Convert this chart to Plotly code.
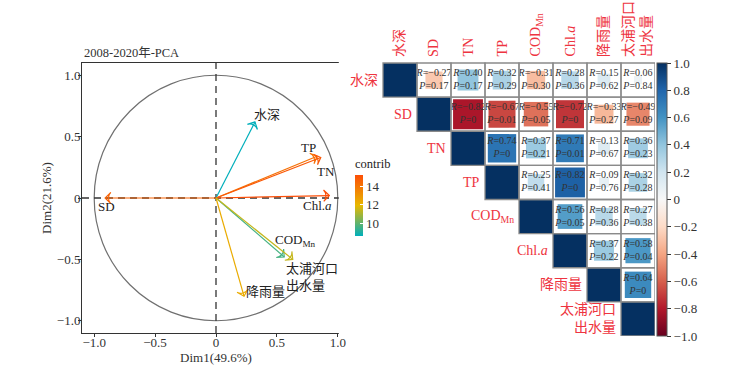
import numpy as np
import plotly.graph_objects as go
from plotly.colors import sample_colorscale, sequential

# ---------------- PCA data ----------------
pca_vars = ['水深', 'TP', 'TN', 'Chl.<i>a</i>', 'SD', 'COD<sub>Mn</sub>', '太浦河口<br>出水量', '降雨量']
dim1 = [0.32, 0.83, 0.86, 0.93, -0.91, 0.56, 0.63, 0.23]
dim2 = [0.62, 0.34, 0.33, 0.02, 0.00, -0.48, -0.50, -0.80]
contrib = [8.6, 14.1, 14.9, 15.2, 14.5, 9.6, 11.4, 12.3]
pca_ticks = [-1.0, -0.5, 0, 0.5, 1.0]
pca_ticktext = ['−1.0', '−0.5', '0', '0.5', '1.0']

# ---------------- correlation data ----------------
corr_vars = ['水深', 'SD', 'TN', 'TP', 'COD<sub>Mn</sub>', 'Chl.<i>a</i>', '降雨量', '太浦河口<br>出水量']
r_row1 = [-0.27, 0.40, 0.32, -0.31, 0.28, 0.15, 0.06]
r_row2 = [-0.82, -0.67, -0.55, -0.72, -0.33, -0.49]
r_row3 = [0.74, 0.37, 0.71, 0.13, 0.36]
r_row4 = [0.25, 0.82, 0.09, 0.32]
r_row5 = [0.56, 0.28, 0.27]
r_row6 = [0.37, 0.58]
r_row7 = [0.64]
p_row1 = [0.17, 0.17, 0.29, 0.30, 0.36, 0.62, 0.84]
p_row2 = [0, 0.01, 0.05, 0, 0.27, 0.09]
p_row3 = [0, 0.21, 0.01, 0.67, 0.23]
p_row4 = [0.41, 0, 0.76, 0.28]
p_row5 = [0.05, 0.36, 0.38]
p_row6 = [0.22, 0.04]
p_row7 = [0]
diag_r = 1.0
corr_ticks = [1.0, 0.8, 0.6, 0.4, 0.2, 0, -0.2, -0.4, -0.6, -0.8, -1.0]

# ---------------- styling / layout ----------------
W, H = 742, 374
FONT = 'Liberation Serif, Noto Sans CJK SC, serif'
RED = '#EE3440'
contrib_scale = [[0, '#00AFBB'], [0.5, '#E7B800'], [1, '#FC4E07']]
rdbu = sequential.RdBu  # ColorBrewer red -> blue

pca_px = dict(x0=82, x1=350, y0=63, y1=333)
mat_px = dict(x0=383, x1=655, y0=63, y1=336)
cell_w = (mat_px['x1'] - mat_px['x0']) / 8
cell_h = (mat_px['y1'] - mat_px['y0']) / 8
ext_left = 1.3                      # extra axis room (in cells) for row labels
ext_top = mat_px['y0'] / cell_h     # extra axis room (in cells) for column labels

# label offsets from arrow tips (data units)
lab_dx = [0.10, -0.07, 0.04, -0.10, 0.01, 0.09, 0.16, 0.18]
lab_dy = [0.06, 0.07, -0.11, -0.08, -0.07, 0.13, -0.14, 0.035]
lab_align = ['center', 'center', 'center', 'center', 'center', 'center', 'left', 'center']

fig = go.Figure()

cmin, cmax = min(contrib), max(contrib)
line_cols = sample_colorscale(contrib_scale, [(c - cmin) / (cmax - cmin) for c in contrib])

for i, name in enumerate(pca_vars):
    fig.add_trace(go.Scatter(
        x=[0, dim1[i]], y=[0, dim2[i]], mode='lines+markers',
        line=dict(color=line_cols[i], width=1.2),
        marker=dict(symbol=['circle', 'arrow-wide-open'], size=[0, 8], angleref='previous', opacity=1,
                    color=[contrib[i], contrib[i]], colorscale=contrib_scale, cmin=cmin, cmax=cmax,
                    line=dict(width=1.2, color=line_cols[i]),
                    showscale=(i == 0),
                    colorbar=dict(
                        title=dict(text='contrib', side='top', font=dict(family=FONT, size=12.5, color='#222')),
                        x=355 / W, xanchor='left', xpad=0,
                        y=1 - 196 / H, yanchor='middle', ypad=0,
                        len=80 / H, lenmode='fraction', thickness=8, thicknessmode='pixels',
                        tickvals=[10, 12, 14], ticks='inside', ticklen=3, tickcolor='white', tickwidth=1,
                        tickfont=dict(family=FONT, size=13, color='#333'), outlinewidth=0)),
        hoverinfo='skip', showlegend=False, xaxis='x', yaxis='y'))
    fig.add_annotation(x=dim1[i] + lab_dx[i], y=dim2[i] + lab_dy[i], xref='x', yref='y',
                       text=name, showarrow=False, align=lab_align[i],
                       font=dict(family=FONT, size=13, color='#222'))

# ---- correlation matrix marks ----
r_rows = [r_row1, r_row2, r_row3, r_row4, r_row5, r_row6, r_row7]
p_rows = [p_row1, p_row2, p_row3, p_row4, p_row5, p_row6, p_row7]
n = len(corr_vars)
cx, cy, cr, ctext = [], [], [], []
for i in range(n - 1):
    for k, (r, p) in enumerate(zip(r_rows[i], p_rows[i])):
        j = i + 1 + k
        cx.append(j + 1); cy.append(i + 1); cr.append(r)
        rs = f'{r:.2f}'.replace('-', '−')
        ps = '0' if p == 0 else f'{p:.2f}'
        ctext.append(f'<i>R</i>={rs}<br><i>P</i>={ps}')

# diagonal cells as a heatmap (R = 1 on the diagonal, empty elsewhere)
diag_z = [[diag_r if a == b else None for b in range(n)] for a in range(n)]
fig.add_trace(go.Heatmap(
    x=list(range(1, n + 1)), y=list(range(1, n + 1)), z=diag_z, xaxis='x2', yaxis='y2',
    colorscale=rdbu, zmin=-1, zmax=1, showscale=False, hoverinfo='skip'))

# off-diagonal squares (area ~ |R|)
fig.add_trace(go.Scatter(
    x=cx, y=cy, mode='markers', xaxis='x2', yaxis='y2',
    marker=dict(symbol='square', opacity=1, colorscale=rdbu, cmin=-1, cmax=1, line=dict(width=0),
                size=[np.sqrt(abs(r)) * (cell_w - 1) for r in cr], color=cr,
                showscale=True,
                colorbar=dict(x=657 / W, xanchor='left', xpad=0,
                              y=1 - (mat_px['y0'] + mat_px['y1']) / 2 / H, yanchor='middle', ypad=0,
                              len=(mat_px['y1'] - mat_px['y0']) / H, lenmode='fraction',
                              thickness=10, thicknessmode='pixels',
                              tickvals=corr_ticks,
                              ticktext=['0' if t == 0 else ('%.1f' % t).replace('-', '−') for t in corr_ticks],
                              ticks='outside', ticklen=4, tickcolor='#333',
                              tickfont=dict(family=FONT, size=13, color='#333'),
                              outlinewidth=1, outlinecolor='#555')),
    hoverinfo='skip', showlegend=False))

fig.add_trace(go.Scatter(
    x=cx, y=cy, mode='text', text=ctext, xaxis='x2', yaxis='y2',
    textfont=dict(family=FONT, size=10, color='#333'),
    hoverinfo='skip', showlegend=False))

shapes = []
for i in range(n):
    for j in range(i, n):
        shapes.append(dict(type='rect', xref='x2', yref='y2', x0=j + 0.5, x1=j + 1.5,
                           y0=i + 0.5, y1=i + 1.5, line=dict(color='#8a8a8a', width=1.3),
                           layer='above'))
# PCA circle and dashed axes
shapes.append(dict(type='circle', xref='x', yref='y', x0=-1, y0=-1, x1=1, y1=1,
                   line=dict(color='#707070', width=1.2), layer='below'))
shapes.append(dict(type='line', xref='x', yref='y', x0=-1.1, x1=1.1, y0=0, y1=0,
                   line=dict(color='#333', width=1.3, dash='7px,5px'), layer='below'))
shapes.append(dict(type='line', xref='x', yref='y', x0=0, x1=0, y0=-1.1, y1=1.1,
                   line=dict(color='#333', width=1.3, dash='7px,5px'), layer='below'))

annotations = list(fig.layout.annotations)
for i, name in enumerate(corr_vars):
    annotations.append(dict(x=i + 0.5 - 0.08, y=i + 1, xref='x2', yref='y2', text=name,
                            xanchor='right', yanchor='middle', align='right', showarrow=False,
                            font=dict(family=FONT, size=14, color=RED)))
    annotations.append(dict(x=i + 1, y=0.5 - 0.12, xref='x2', yref='y2', text=name,
                            xanchor='center', yanchor='bottom', align='left', textangle=-90,
                            showarrow=False, font=dict(family=FONT, size=14, color=RED)))
annotations.append(dict(x=pca_px['x0'] / W, y=1 - pca_px['y0'] / H + 0.004, xref='paper', yref='paper',
                        text='2008-2020年-PCA', xanchor='left', yanchor='bottom', showarrow=False,
                        font=dict(family=FONT, size=12.5, color='#333')))

axis_common = dict(showgrid=False, zeroline=False, showline=True, mirror=True, linecolor='#333',
                   linewidth=1, ticks='outside', ticklen=3, tickcolor='#333',
                   tickfont=dict(family=FONT, size=13, color='#333'))

fig.update_layout(
    width=W, height=H, margin=dict(l=0, r=0, t=0, b=0),
    paper_bgcolor='white', plot_bgcolor='white', showlegend=False,
    xaxis=dict(domain=[pca_px['x0'] / W, pca_px['x1'] / W], range=[-1.1, 1.1],
               tickvals=pca_ticks, ticktext=pca_ticktext, ticklabelstandoff=-6,
               title=dict(text='Dim1(49.6%)', font=dict(family=FONT, size=13, color='#333'), standoff=2),
               anchor='y', **axis_common),
    yaxis=dict(domain=[1 - pca_px['y1'] / H, 1 - pca_px['y0'] / H], range=[-1.1, 1.1],
               tickvals=pca_ticks, ticktext=pca_ticktext, ticklabelstandoff=-5,
               title=dict(text='Dim2(21.6%)', font=dict(family=FONT, size=13, color='#333'), standoff=2),
               anchor='x', **axis_common),
    xaxis2=dict(domain=[(mat_px['x0'] - ext_left * cell_w) / W, mat_px['x1'] / W],
                range=[0.5 - ext_left, 8.5], visible=False, anchor='y2'),
    yaxis2=dict(domain=[1 - mat_px['y1'] / H, 1.0], range=[8.5, 0.5 - ext_top],
                visible=False, anchor='x2'),
    shapes=shapes, annotations=annotations,
)

fig.write_html('out.html', config={'displayModeBar': False},
               post_script="document.body.style.margin='0';")
